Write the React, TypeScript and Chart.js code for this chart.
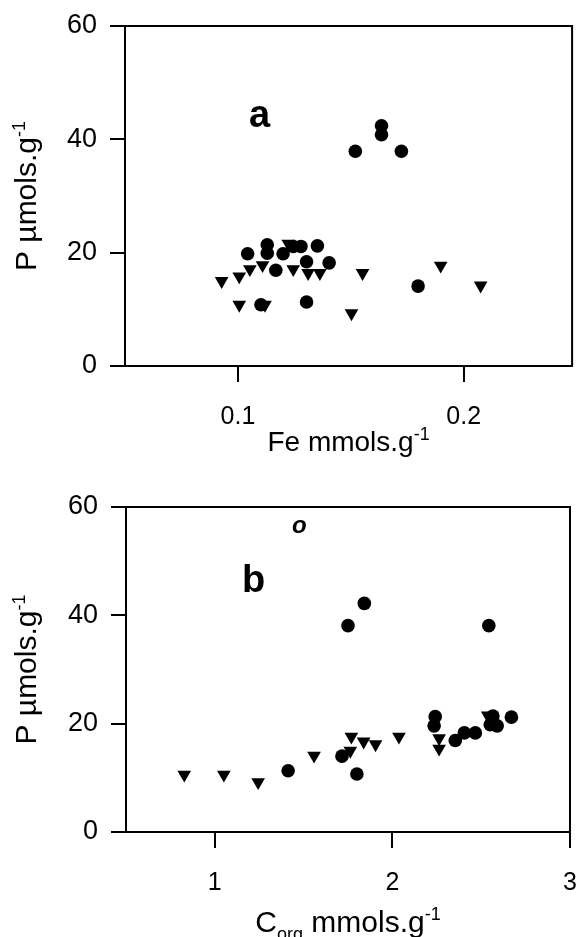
import React, { useEffect, useRef } from "react";
import { Chart, registerables } from "chart.js";
Chart.register(...registerables);

const FONT = '"Liberation Sans", Arial, Helvetica, sans-serif';

// Panel a: P vs Fe
const aCircleX = [0.152, 0.1636, 0.1636, 0.1724, 0.1043, 0.113, 0.113, 0.12, 0.1245, 0.1279, 0.1352, 0.1304, 0.1404, 0.1168, 0.1798, 0.1102, 0.1304];
const aCircleY = [37.9, 42.4, 40.8, 37.9, 19.8, 21.4, 19.9, 19.8, 21.1, 21.1, 21.2, 18.4, 18.2, 16.9, 14.1, 10.8, 11.3];
const aTriX = [0.0928, 0.1006, 0.1053, 0.1109, 0.1245, 0.1311, 0.1363, 0.1223, 0.1552, 0.1898, 0.2075, 0.1006, 0.112, 0.1503];
const aTriY = [15.0, 15.8, 17.1, 17.8, 17.1, 16.4, 16.4, 21.6, 16.4, 17.7, 14.2, 10.8, 10.8, 9.3];
const aXTicks = [0.1, 0.2];

// Panel b: P vs Corg
const bCircleX = [1.75, 1.842, 2.543, 2.241, 2.235, 2.566, 2.551, 2.59, 2.67, 2.354, 2.405, 2.467, 1.716, 1.413, 1.8];
const bCircleY = [38.1, 42.2, 38.1, 21.3, 19.6, 21.4, 19.8, 19.6, 21.2, 16.9, 18.3, 18.3, 14.0, 11.3, 10.7];
const bTriX = [0.828, 1.051, 1.244, 1.559, 1.763, 1.769, 1.838, 1.905, 2.037, 2.263, 2.263, 2.537];
const bTriY = [10.6, 10.6, 9.2, 14.1, 15.0, 17.6, 16.7, 16.2, 17.6, 17.3, 15.4, 21.5];
const bXTicks = [1, 2, 3];

const yTicks = [0, 20, 40, 60];

type Part = { text: string; size: number; dy: number; style?: string };

function drawParts(ctx: CanvasRenderingContext2D, parts: Part[], cx: number, by: number) {
  let total = 0;
  const widths: number[] = [];
  for (const p of parts) {
    ctx.font = `${p.style || ""} ${p.size}px ${FONT}`;
    const w = ctx.measureText(p.text).width;
    widths.push(w);
    total += w;
  }
  let x = cx - total / 2;
  parts.forEach((p, i) => {
    ctx.font = `${p.style || ""} ${p.size}px ${FONT}`;
    ctx.fillText(p.text, x, by + p.dy);
    x += widths[i];
  });
}

type Decor = {
  xTitle: Part[];
  xTitleBase: number;
  yTitleX: number;
  letters: { text: string; x: number; y: number; font: string }[];
};

function makeDecor(d: Decor) {
  return {
    id: "decor",
    afterDraw(chart: any) {
      const ctx: CanvasRenderingContext2D = chart.ctx;
      const ca = chart.chartArea;
      ctx.save();
      ctx.strokeStyle = "#000";
      ctx.lineWidth = 2;
      ctx.beginPath();
      ctx.moveTo(ca.left, ca.top);
      ctx.lineTo(ca.right, ca.top);
      ctx.lineTo(ca.right, ca.bottom);
      ctx.stroke();

      ctx.fillStyle = "#000";
      ctx.textAlign = "left";
      ctx.textBaseline = "alphabetic";
      drawParts(ctx, d.xTitle, (ca.left + ca.right) / 2, d.xTitleBase);

      ctx.save();
      ctx.translate(d.yTitleX, (ca.top + ca.bottom) / 2);
      ctx.rotate(-Math.PI / 2);
      drawParts(
        ctx,
        [
          { text: "P µmols.g", size: 30, dy: 0 },
          { text: "-1", size: 18, dy: -11 },
        ],
        0,
        0
      );
      ctx.restore();

      for (const l of d.letters) {
        ctx.font = l.font;
        ctx.fillText(l.text, l.x, l.y);
      }
      ctx.restore();
    },
  };
}

function buildConfig(
  cx: number[], cy: number[], tx: number[], ty: number[],
  xmin: number, xmax: number, xticks: number[], xHeight: number, yWidth: number,
  pad: any, decor: Decor, fmt: (v: number) => string
): any {
  return {
    type: "scatter",
    data: {
      datasets: [
        {
          label: "circles",
          data: cx.map((x, i) => ({ x, y: cy[i] })),
          pointStyle: "circle",
          pointRadius: 6.8,
          backgroundColor: "#000",
          borderColor: "#000",
          borderWidth: 0,
        },
        {
          label: "triangles",
          data: tx.map((x, i) => ({ x, y: ty[i] })),
          pointStyle: "triangle",
          pointRotation: 180,
          pointRadius: 7.9,
          backgroundColor: "#000",
          borderColor: "#000",
          borderWidth: 0,
        },
      ],
    },
    options: {
      responsive: false,
      animation: false,
      events: [],
      layout: { padding: pad },
      plugins: { legend: { display: false }, tooltip: { enabled: false } },
      scales: {
        x: {
          type: "linear",
          min: xmin,
          max: xmax,
          afterBuildTicks: (s: any) => {
            s.ticks = xticks.map((v) => ({ value: v }));
          },
          afterFit: (s: any) => {
            s.height = xHeight;
            s.paddingLeft = 0;
            s.paddingRight = 0;
          },
          grid: { drawOnChartArea: false, drawTicks: true, tickLength: 16, color: "#000", lineWidth: 2 },
          border: { display: true, color: "#000", width: 2 },
          ticks: { color: "#000", font: { family: FONT, size: 25 }, padding: 20, maxRotation: 0, callback: (v: number) => fmt(v) },
        },
        y: {
          type: "linear",
          min: 0,
          max: 60,
          afterBuildTicks: (s: any) => {
            s.ticks = yTicks.map((v) => ({ value: v }));
          },
          afterFit: (s: any) => {
            s.width = yWidth;
            s.paddingTop = 0;
            s.paddingBottom = 0;
          },
          grid: { drawOnChartArea: false, drawTicks: true, tickLength: 15, color: "#000", lineWidth: 2 },
          border: { display: true, color: "#000", width: 2 },
          ticks: { color: "#000", font: { family: FONT, size: 27 }, padding: 13, callback: (v: number) => String(v) },
        },
      },
    },
    plugins: [makeDecor(decor)],
  };
}

export default function App() {
  const refA = useRef<HTMLCanvasElement>(null);
  const refB = useRef<HTMLCanvasElement>(null);

  useEffect(() => {
    const chartA = new Chart(
      refA.current as HTMLCanvasElement,
      buildConfig(
        aCircleX, aCircleY, aTriX, aTriY,
        0.05, 0.248, aXTicks, 104, 125,
        { left: 0, right: 7, top: 26, bottom: 0 },
        {
          xTitle: [
            { text: "Fe mmols.g", size: 28, dy: 0 },
            { text: "-1", size: 18, dy: -11 },
          ],
          xTitleBase: 451,
          yTitleX: 36,
          letters: [{ text: "a", x: 249, y: 127, font: `bold 38px ${FONT}` }],
        },
        (v) => v.toFixed(1)
      )
    );
    const chartB = new Chart(
      refB.current as HTMLCanvasElement,
      buildConfig(
        bCircleX, bCircleY, bTriX, bTriY,
        0.5, 3, bXTicks, 105, 126,
        { left: 0, right: 10, top: 37, bottom: 0 },
        {
          xTitle: [
            { text: "C", size: 30, dy: 0 },
            { text: "org", size: 18, dy: 8 },
            { text: " mmols.g", size: 30, dy: 0 },
            { text: "-1", size: 18, dy: -12 },
          ],
          xTitleBase: 462,
          yTitleX: 36,
          letters: [
            { text: "b", x: 242, y: 122, font: `bold 38px ${FONT}` },
            { text: "o", x: 292, y: 63, font: `italic bold 24px ${FONT}` },
          ],
        },
        (v) => String(v)
      )
    );
    return () => {
      chartA.destroy();
      chartB.destroy();
    };
  }, []);

  return (
    <div style={{ position: "absolute", left: 0, top: 0, width: 580, height: 937, background: "#fff", overflow: "hidden" }}>
      <canvas ref={refA} width={580} height={470} style={{ position: "absolute", left: 0, top: 0, display: "block" }} />
      <canvas ref={refB} width={580} height={467} style={{ position: "absolute", left: 0, top: 470, display: "block" }} />
    </div>
  );
}
